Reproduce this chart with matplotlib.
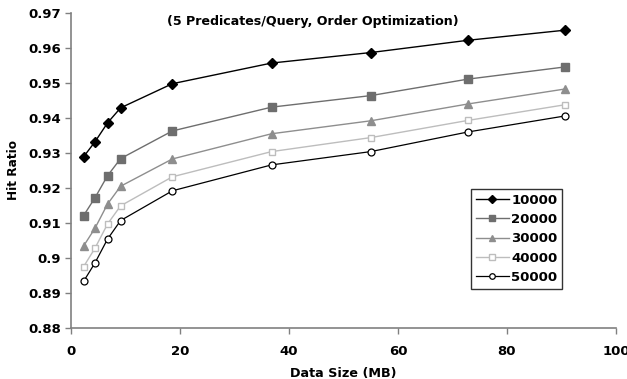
import matplotlib
matplotlib.use("Agg")
import matplotlib.pyplot as plt

# data
data_size = [2.3, 4.4, 6.7, 9.1, 18.6, 36.8, 55.0, 72.8, 90.7]
labels = ["10000", "20000", "30000", "40000", "50000"]
hit_10000 = [0.9289, 0.9332, 0.9386, 0.9429, 0.9498, 0.9557, 0.9587, 0.9622, 0.9651]
hit_20000 = [0.9121, 0.9172, 0.9235, 0.9284, 0.9363, 0.9431, 0.9464, 0.9511, 0.9546]
hit_30000 = [0.9034, 0.9085, 0.9154, 0.9205, 0.9283, 0.9355, 0.9392, 0.9440, 0.9483]
hit_40000 = [0.8975, 0.9028, 0.9097, 0.9149, 0.9232, 0.9304, 0.9344, 0.9393, 0.9438]
hit_50000 = [0.8933, 0.8986, 0.9054, 0.9107, 0.9192, 0.9266, 0.9304, 0.9360, 0.9406]
series = [hit_10000, hit_20000, hit_30000, hit_40000, hit_50000]

styles = [
    dict(color="black", marker="D", markersize=4.6, mfc="black", mec="black", lw=1.0),
    dict(color="#6e6e6e", marker="s", markersize=5.2, mfc="#6e6e6e", mec="#6e6e6e", lw=1.0),
    dict(color="#8e8e8e", marker="^", markersize=5.8, mfc="#8e8e8e", mec="#8e8e8e", lw=1.0),
    dict(color="#bdbdbd", marker="s", markersize=4.8, mfc="white", mec="#bdbdbd", lw=1.0),
    dict(color="black", marker="o", markersize=5, mfc="white", mec="black", lw=0.9, mew=0.9),
]

plt.rcParams["font.family"] = "DejaVu Sans"
plt.rcParams["font.weight"] = "bold"

fig = plt.figure(figsize=(6.27, 3.79), dpi=100)
ax = fig.add_axes([71 / 627, 1 - 328 / 379, 545 / 627, 315 / 379])

for lab, ys, st in zip(labels, series, styles):
    ax.plot(data_size, ys, label=lab, **st)

ax.set_xlim(0, 100)
ax.set_ylim(0.88, 0.97)
ax.set_xticks(range(0, 101, 20))
ax.set_yticks([0.88, 0.89, 0.90, 0.91, 0.92, 0.93, 0.94, 0.95, 0.96, 0.97])
ax.set_yticklabels(["0.88", "0.89", "0.9", "0.91", "0.92", "0.93", "0.94", "0.95", "0.96", "0.97"])

for s in ["top", "right"]:
    ax.spines[s].set_visible(False)
for s in ["left", "bottom"]:
    ax.spines[s].set_color("#808080")
    ax.spines[s].set_linewidth(1.2)
ax.tick_params(axis="both", direction="out", length=4, width=1, color="#808080",
               labelsize=9.5)
ax.tick_params(axis="x", pad=8)
ax.tick_params(axis="y", pad=3)
for t in ax.get_xticklabels() + ax.get_yticklabels():
    t.set_fontweight("bold")

ax.set_xlabel("Data Size (MB)", fontsize=9.2, fontweight="bold", labelpad=7)
ax.set_ylabel("Hit Ratio", fontsize=8.7, fontweight="bold", labelpad=6)
ax.text(0.444, 0.972, "(5 Predicates/Query, Order Optimization)", transform=ax.transAxes,
        ha="center", va="center", fontsize=9.1, fontweight="bold")

leg = ax.legend(loc="upper left", bbox_to_anchor=(400 / 545, (328 - 189) / 315),
                fontsize=9.5, frameon=True, fancybox=False, handlelength=2.5,
                handletextpad=0.2, borderpad=0.35, labelspacing=0.48, borderaxespad=0,
                markerscale=0.8)
leg.get_frame().set_edgecolor("black")
leg.get_frame().set_linewidth(1.0)
for t in leg.get_texts():
    t.set_fontweight("bold")

fig.savefig("out.png", dpi=100)
